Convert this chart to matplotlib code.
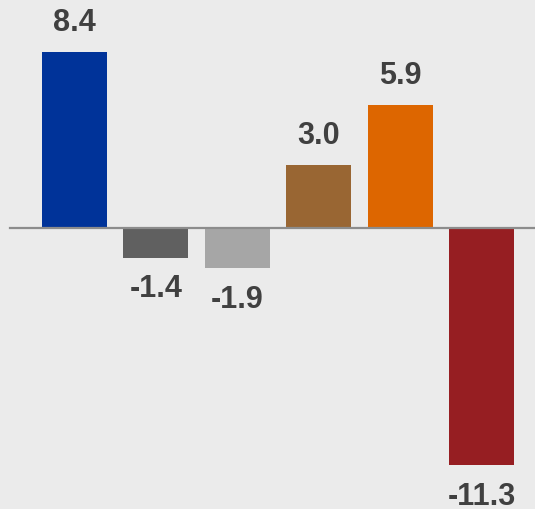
import matplotlib.pyplot as plt

values = [8.4, -1.4, -1.9, 3.0, 5.9, -11.3]
labels = ["8.4", "-1.4", "-1.9", "3.0", "5.9", "-11.3"]
colors = ["#003399", "#606060", "#a6a6a6", "#996633", "#dd6600", "#961e22"]

bg = "#ebebeb"
fig = plt.figure(figsize=(5.35, 5.10), dpi=100, facecolor=bg)
ax = fig.add_axes([0, 0, 1, 1])
ax.set_facecolor(bg)

x = list(range(len(values)))
ax.bar(x, values, width=0.8, color=colors, zorder=2)
ax.plot([-0.79, 6], [0, 0], color="#8c8c8c", lw=1.6, zorder=3)

# 数值标签
for xi, v, t in zip(x, values, labels):
    off = 1.43 if v >= 0 else -1.47
    ax.text(xi, v + off, t, ha="center", va="center", fontsize=22,
            fontweight="bold", color="#404040", family="Liberation Sans")

ax.set_xlim(-0.915, 5.657)
ax.set_ylim(-13.4, 10.94)
ax.axis("off")

fig.savefig("out.png", dpi=100, facecolor=bg)
